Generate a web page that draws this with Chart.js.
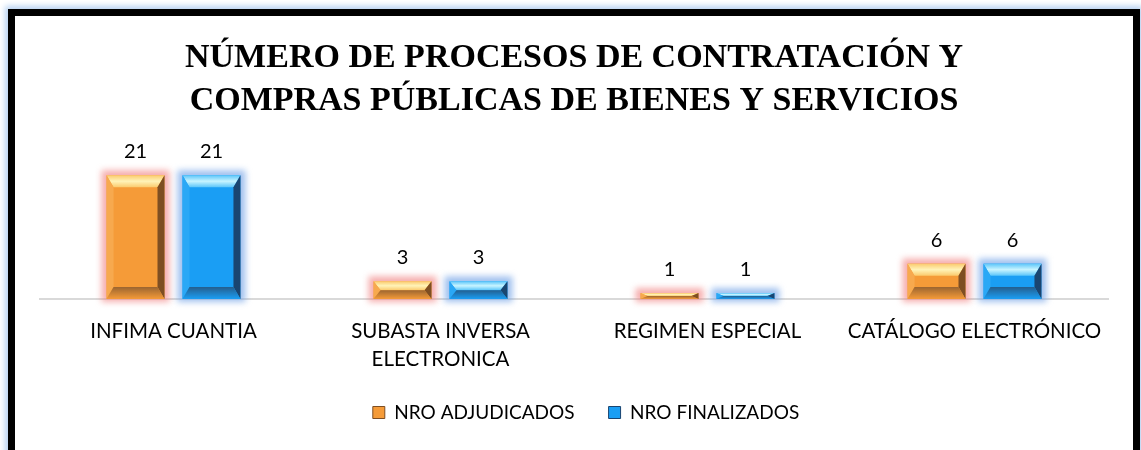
<!DOCTYPE html>
<html><head><meta charset="utf-8">
<script src="https://cdn.jsdelivr.net/npm/chart.js@4.4.1/dist/chart.umd.min.js"></script>
<style>
html,body{margin:0;padding:0;background:#fff;width:1141px;height:450px;overflow:hidden;}
#frame{position:absolute;left:8px;top:9px;width:1118px;height:440px;border:7px solid #000;background:#fff;
box-shadow:0 0 6px 3px #b7d2f3;}
canvas{display:block;}
</style></head>
<body>
<div id="frame"><canvas id="c" width="1118" height="434"></canvas></div>
<script>
const titleLines = ['NÚMERO DE PROCESOS DE CONTRATACIÓN Y', 'COMPRAS PÚBLICAS DE BIENES Y SERVICIOS'];
const categories = ['INFIMA CUANTIA', ['SUBASTA INVERSA', 'ELECTRONICA'], 'REGIMEN ESPECIAL', 'CATÁLOGO ELECTRÓNICO'];
const adjudicados = [21, 3, 1, 6];
const finalizados = [21, 3, 1, 6];
const seriesNames = ['NRO ADJUDICADOS', 'NRO FINALIZADOS'];

const styles = [
  {base:'#F59B38', left:'#F7A94E', top:'#FFF3B8', topMid:'#FBCB6E', right:'#7E4E22', bottom:'#9B6530', glow:'rgba(240,120,120,0.6)'},
  {base:'#1A9EF4', left:'#2AA8F6', top:'#C8F4FF', topMid:'#5CC6FA', right:'#1A4570', bottom:'#245E8E', glow:'rgba(110,160,230,0.65)'}
];

const legendShift = {
  id:'legendShift',
  afterLayout(chart){
    if (chart.legend) { chart.legend.left += 12; chart.legend.right += 12; }
  }
};

const bevelPlugin = {
  id:'bevel',
  afterDatasetsDraw(chart){
    const ctx = chart.ctx;
    chart.data.datasets.forEach((ds, di)=>{
      const meta = chart.getDatasetMeta(di);
      const st = styles[di];
      meta.data.forEach((bar, idx)=>{
        const w = bar.width, l = bar.x - w/2, r = bar.x + w/2, t = bar.y, b = bar.base;
        const h = b - t;
        ctx.save();
        ctx.filter = 'blur(3px)';
        ctx.fillStyle = st.glow;
        ctx.fillRect(l-5, t-5, w+10, h+8);
        ctx.restore();
        ctx.save();
        ctx.fillStyle = st.base;
        ctx.fillRect(l, t, w, h);
        const bv = Math.min(12, h/2), bh = Math.min(7, w/4);
        let g = ctx.createLinearGradient(0, t, 0, t+bv);
        g.addColorStop(0, st.topMid); g.addColorStop(0.5, st.top); g.addColorStop(1, st.topMid);
        ctx.fillStyle = g;
        ctx.beginPath(); ctx.moveTo(l,t); ctx.lineTo(r,t); ctx.lineTo(r-bh,t+bv); ctx.lineTo(l+bh,t+bv); ctx.closePath(); ctx.fill();
        ctx.fillStyle = st.left;
        ctx.beginPath(); ctx.moveTo(l,t); ctx.lineTo(l+bh,t+bv); ctx.lineTo(l+bh,b-bv); ctx.lineTo(l,b); ctx.closePath(); ctx.fill();
        ctx.fillStyle = st.right;
        ctx.beginPath(); ctx.moveTo(r,t); ctx.lineTo(r-bh,t+bv); ctx.lineTo(r-bh,b-bv); ctx.lineTo(r,b); ctx.closePath(); ctx.fill();
        g = ctx.createLinearGradient(0, b-bv, 0, b);
        g.addColorStop(0, st.bottom); g.addColorStop(1, st.base);
        ctx.fillStyle = g;
        ctx.beginPath(); ctx.moveTo(l,b); ctx.lineTo(r,b); ctx.lineTo(r-bh,b-bv); ctx.lineTo(l+bh,b-bv); ctx.closePath(); ctx.fill();
        ctx.restore();
        ctx.save();
        ctx.fillStyle = '#000';
        ctx.font = '20px Lato';
        ctx.textAlign = 'center';
        ctx.textBaseline = 'alphabetic';
        ctx.fillText(String(ds.data[idx]), bar.x, t - 17);
        ctx.restore();
      });
    });
  }
};

new Chart(document.getElementById('c'), {
  type:'bar',
  data:{
    labels: categories,
    datasets:[
      {label: seriesNames[0], data: adjudicados, backgroundColor: 'rgba(0,0,0,0)', borderWidth:0},
      {label: seriesNames[1], data: finalizados, backgroundColor: 'rgba(0,0,0,0)', borderWidth:0}
    ]
  },
  options:{
    responsive:false,
    animation:false,
    events:[],
    categoryPercentage:0.569,
    barPercentage:0.763,
    layout:{padding:{left:25, right:25, top:0, bottom:18}},
    scales:{
      x:{
        grid:{display:false, drawTicks:false},
        border:{display:true, color:'#d9d9d9', width:2},
        ticks:{color:'#000', font:{family:'Lato', size:20.5, lineHeight:1.366}, padding:18, maxRotation:0, autoSkip:false},
        afterFit(scale){ scale.height -= 22; }
      },
      y:{display:false, min:0, max:28}
    },
    plugins:{
      title:{display:true, text:titleLines, color:'#000', font:{family:'Liberation Serif', size:34, weight:'bold', lineHeight:1.25}, padding:{top:21, bottom:12}},
      legend:{position:'bottom', labels:{color:'#000', font:{family:'Lato', size:19}, boxWidth:12, boxHeight:12, padding:34,
        generateLabels(chart){
          return chart.data.datasets.map((d,i)=>({text:d.label, fillStyle:styles[i].base, strokeStyle:styles[i].right, lineWidth:1, datasetIndex:i, fontColor:'#000'}));
        }}},
      tooltip:{enabled:false}
    }
  },
  plugins:[bevelPlugin, legendShift]
});
</script>
</body></html>
